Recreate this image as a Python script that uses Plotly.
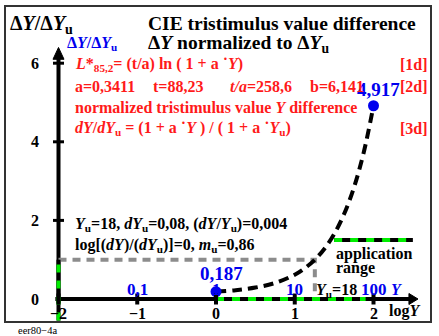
import plotly.graph_objects as go

# ---- data -------------------------------------------------------------
# tick positions and labels
x_ticks = [-2, -1, 0, 1, 2]
x_tick_labels = ["\u22122", "\u22121", "0", "1", "2"]
y_ticks = [0, 2, 4, 6]
y_tick_labels = ["0", "2", "4", "6"]
# tristimulus value Y labels on the log axis
y_val_pos = [-1, 0, 1, 2]
y_val_labels = ["0,1", "1", "10", "100"]

# normalized difference dY/dYu versus log Y
log_y = [0.0, 0.25, 0.5, 0.75, 1.0, 1.125, 1.25, 1.375, 1.5, 1.625, 1.75, 1.875, 2.0]
ratio = [0.187, 0.225, 0.291, 0.409, 0.618, 0.780, 0.990, 1.273, 1.651, 2.155, 2.826, 3.723, 4.917]

# marked points
pt_x = [0, 2]
pt_y = [0.187, 4.917]
pt_labels = ["0,187", "4,917"]

# reference value Yu = 18
log_yu = 1.255
ref_level = 1.0

# application range segments
app_x_axis = [0.0, 1.9]
app_y_axis = [-0.55, 1.0]
app_legend_x = [1.5, 2.5]
app_legend_y = 1.5

# ---- geometry helpers ---------------------------------------------------
W, H = 439, 336
X0, XS = 216, 78.75      # pixel of x=0, pixels per unit
Y0, YS = 299, 39.3       # pixel of y=0, pixels per unit


def px(x):
    return x / W


def py(y):
    return 1 - y / H


RED = "#ff1a1a"
BLUE = "#0000ee"
GREEN = "#00ee00"
SERIF = "Liberation Serif, Times New Roman, serif"

fig = go.Figure()

# gray dashed reference lines (y = 1 up to Yu, then down to the axis)
fig.add_trace(go.Scatter(x=[-2, log_yu, log_yu], y=[ref_level, ref_level, 0],
                         mode="lines", line=dict(color="#8c8c8c", width=4, dash="8px,6px"),
                         hoverinfo="skip"))

# application range markers: black base with green dashes
for xs, ys in [(app_x_axis, [0, 0]), ([-2, -2], app_y_axis),
               (app_legend_x, [app_legend_y, app_legend_y])]:
    fig.add_trace(go.Scatter(x=xs, y=ys, mode="lines",
                             line=dict(color="black", width=4), hoverinfo="skip"))
    fig.add_trace(go.Scatter(x=xs, y=ys, mode="lines",
                             line=dict(color=GREEN, width=4, dash="8px,8px"), hoverinfo="skip"))

# curve
fig.add_trace(go.Scatter(x=log_y, y=ratio, mode="lines", line_shape="spline",
                         line=dict(color="black", width=4, dash="10px,6px"), hoverinfo="skip"))

# points
fig.add_trace(go.Scatter(x=pt_x, y=pt_y, mode="markers",
                         marker=dict(color=BLUE, size=11), hoverinfo="skip"))

shapes = []
# frame
shapes.append(dict(type="rect", xref="paper", yref="paper",
                   x0=px(5), x1=px(431), y0=py(322), y1=py(6),
                   line=dict(color="#333333", width=2)))
# axes
shapes.append(dict(type="line", x0=-2.04, x1=2.47, y0=0, y1=0, layer="below",
                   line=dict(color="black", width=4)))
shapes.append(dict(type="line", x0=-2, x1=-2, y0=-0.1, y1=6.15, layer="below",
                   line=dict(color="black", width=4)))
# arrow heads
shapes.append(dict(type="path", path="M 2.565 0 L 2.45 0.14 L 2.45 -0.14 Z",
                   fillcolor="black", line=dict(color="black", width=1)))
shapes.append(dict(type="path", path="M -2 6.4 L -2.07 6.1 L -1.93 6.1 Z",
                   fillcolor="black", line=dict(color="black", width=1)))
# ticks
for t in x_ticks:
    shapes.append(dict(type="line", x0=t, x1=t, y0=-0.14, y1=0.14,
                       line=dict(color="black", width=4)))
for t in y_ticks[1:]:
    shapes.append(dict(type="line", x0=-2.07, x1=-1.93, y0=t, y1=t,
                       line=dict(color="black", width=3)))

ann = []


def txt(text, x, y, size, color="black", xanchor="left", bold=True, xref="paper", yref="paper"):
    if bold:
        text = "<b>" + text + "</b>"
    ann.append(dict(text=text, x=x, y=y, xref=xref, yref=yref, showarrow=False,
                    xanchor=xanchor, yanchor="middle",
                    font=dict(family=SERIF, size=size, color=color)))


# axis tick labels
for t, lab in zip(x_ticks, x_tick_labels):
    txt(lab, t, -0.36, 16, xref="x", yref="y", xanchor="center")
for t, lab in zip(y_ticks, y_tick_labels):
    txt(lab, -2.22, t, 16, xref="x", yref="y", xanchor="right")
for t, lab in zip(y_val_pos, y_val_labels):
    txt(lab, t, 0.24, 17, color=BLUE, xref="x", yref="y", xanchor="center")
txt("<i>Y</i><sub>u</sub>=18", px(314), py(290), 16)
txt("<i>Y</i>", px(389), py(289), 16, color=BLUE)
txt("log<i>Y</i>", px(387), py(311), 16)

# point labels
txt(pt_labels[0], pt_x[0] + 0.065, 0.64, 19, color=BLUE, xref="x", yref="y", xanchor="center")
txt(pt_labels[1], pt_x[1] + 0.06, 5.34, 19, color=BLUE, xref="x", yref="y", xanchor="center")

# titles
txt("\u0394<i>Y</i>/\u0394<i>Y</i><sub>u</sub>", px(8), py(25), 20)
txt("CIE tristimulus value difference", px(146), py(24), 19.5)
txt("\u0394<i>Y</i> normalized to \u0394<i>Y</i><sub>u</sub>", px(146), py(44), 19.5)
txt("\u0394<i>Y</i>/\u0394<i>Y</i><sub>u</sub>", px(65), py(43), 16, color=BLUE)

# formulas
txt("<i>L</i>*<sub>85,2</sub>= (t/a) ln ( 1 + a \u02d9<i>Y</i>)", px(73), py(64), 16, color=RED)
txt("a=0,3411", px(73), py(86), 16, color=RED)
txt("t=88,23", px(151), py(86), 16, color=RED)
txt("<i>t/a</i>=258,6", px(228), py(86), 16, color=RED)
txt("b=6,141", px(308), py(86), 16, color=RED)
txt("normalized tristimulus value <i>Y</i> difference", px(73), py(107), 16, color=RED)
txt("<i>dY</i>/<i>dY</i><sub>u</sub> = (1 + a \u02d9<i>Y</i> ) / ( 1 + a \u02d9<i>Y</i><sub>u</sub>)",
    px(73), py(128), 16, color=RED)
txt("[1d]", px(430), py(64), 16, color=RED, xanchor="right")
txt("[2d]", px(430), py(86), 16, color=RED, xanchor="right")
txt("[3d]", px(430), py(128), 16, color=RED, xanchor="right")

# reference values
txt("<i>Y</i><sub>u</sub>=18, <i>dY</i><sub>u</sub>=0,08, (<i>dY</i>/<i>Y</i><sub>u</sub>)=0,004",
    px(73), py(224), 16)
txt("log[(<i>dY</i>)/(<i>dY</i><sub>u</sub>)]=0, <i>m</i><sub>u</sub>=0,86", px(73), py(246), 16)
txt("application", px(334), py(254), 16)
txt("range", px(334), py(268), 16)

txt("eer80\u22124a", px(16), py(330), 10.5, bold=False)

fig.update_layout(
    width=W, height=H, autosize=False,
    margin=dict(l=0, r=0, t=0, b=0),
    paper_bgcolor="white", plot_bgcolor="white",
    showlegend=False,
    xaxis=dict(range=[-X0 / XS, (W - X0) / XS], visible=False, fixedrange=True),
    yaxis=dict(range=[-(H - Y0) / YS, Y0 / YS], visible=False, fixedrange=True),
    shapes=shapes, annotations=ann,
)

fig.write_html("out.html", config={"displayModeBar": False})
